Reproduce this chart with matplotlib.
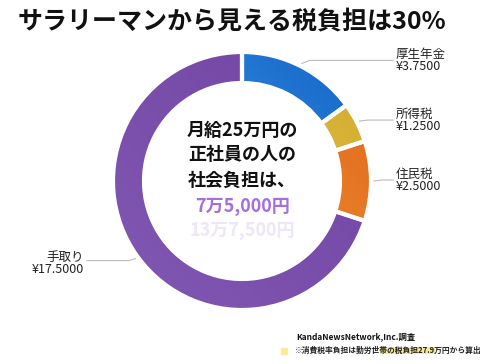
import matplotlib
matplotlib.use("Agg")
import matplotlib.pyplot as plt
import numpy as np
from matplotlib.colors import LinearSegmentedColormap

plt.rcParams['font.family'] = ['Noto Sans CJK JP', 'DejaVu Sans']

# Data
labels = ['厚生年金', '所得税', '住民税', '手取り']
values = [3.75, 1.25, 2.5, 17.5]
value_text = ['¥3.7500', '¥1.2500', '¥2.5000', '¥17.5000']
grad_colors = [('#4fb0f2', '#1262c6'), ('#f2d65a', '#cfa82c'),
               ('#f3a040', '#e0661a'), ('#8058b2', '#7344a4')]
center_lines = ['月給25万円の', '正社員の人の', '社会負担は、']
amount_lines = ['7万5,000円', '13万7,500円']

W, H = 490, 364
fig = plt.figure(figsize=(W / 100, H / 100), dpi=100)
ax = fig.add_axes([0, 0, 1, 1])

cx, cy, R = 242, H - 181, 129
width = 31

wedges, _ = ax.pie(values, startangle=90, counterclock=False, center=(cx, cy),
                   radius=R, wedgeprops=dict(width=width, edgecolor='white', linewidth=3),
                   frame=True)
ax.set_xlim(0, W)
ax.set_ylim(0, H)
ax.set_aspect('equal')
ax.axis('off')

# gradient fill clipped to each wedge
yy, xx = np.mgrid[0:1:200j, 0:1:200j]
grad = (xx + (1 - yy)) / 2
for w, (c1, c2) in zip(wedges, grad_colors):
    cmap = LinearSegmentedColormap.from_list('g', [c1, c2])
    w.set_facecolor('none')
    ext = [cx - R, cx + R, cy - R, cy + R]
    im = ax.imshow(grad, extent=ext, origin='upper', cmap=cmap, zorder=1)
    im.set_clip_path(w)
    w.set_zorder(2)
    w.set_edgecolor('white')

# labels with leader lines
total = sum(values)
start = 90
for i, (lab, v) in enumerate(zip(labels, values)):
    ang = start - v / total * 180
    start -= v / total * 360
    a = np.deg2rad(ang)
    px, py = cx + (R + 3) * np.cos(a), cy + (R + 3) * np.sin(a)
    if np.cos(a) >= 0:
        ex = 393
        ly = py + 3 if i == 0 else py + 1
        ax.plot([px, px + 8, ex], [py, ly, ly], color='#bbbbbb', lw=0.8)
        ax.text(ex + 3, ly, lab + '\n' + value_text[i], fontsize=9,
                va='center', ha='left', linespacing=0.92, color='#222222')
    else:
        ex = 87
        ax.plot([px, px - 6, ex], [py, py - 2, py - 2], color='#bbbbbb', lw=0.8)
        ax.text(ex - 3, py - 5, lab + '\n' + value_text[i], fontsize=9,
                va='center', ha='right', multialignment='right', linespacing=0.92, color='#222222')

# center text
for k, t in enumerate(center_lines):
    ax.text(cx, H - 130 - 25 * k, t, fontsize=13, fontweight='bold', ha='center', va='center',
            color='#111111')
ax.text(cx, H - 206, amount_lines[0], fontsize=13, fontweight='bold', ha='center', va='center',
        color='#a56fe0')
ax.text(cx, H - 231, amount_lines[1], fontsize=13, fontweight='bold', ha='center', va='center',
        color='#ede7f7')

# title
ax.text(18, H - 22, 'サラリーマンから見える税負担は30%', fontsize=18, fontweight='bold',
        ha='left', va='center', color='#111111')

# footer
ax.text(296, H - 337, 'KandaNewsNetwork,Inc.調査', fontsize=6, fontweight='bold',
        ha='left', va='center', color='#111111')
ax.add_patch(plt.Rectangle((281, H - 354), 6, 6, color='#f8ec9a'))
ax.add_patch(plt.Rectangle((380, H - 354), 55, 7, color='#f8ec9a', lw=0))
ax.text(295, H - 350, '※消費税率負担は勤労世帯の税負担27.9万円から算出', fontsize=5.6,
        fontweight='bold', ha='left', va='center', color='#222222')

fig.savefig('out.png', dpi=100)
